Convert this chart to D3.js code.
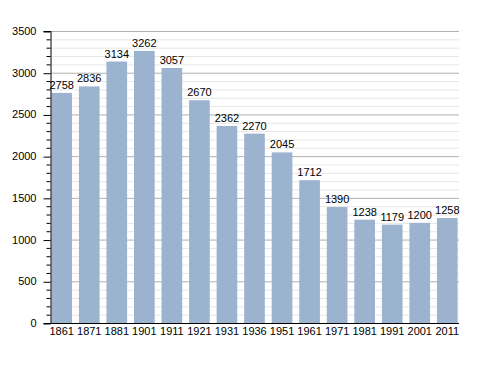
<!DOCTYPE html>
<html><head><meta charset="utf-8">
<script src="https://cdn.jsdelivr.net/npm/d3@7"></script>
<style>body{margin:0;background:#fff}svg{display:block;font-family:"Liberation Sans",Arial,sans-serif}</style>
</head><body><svg id="c" width="488" height="373"></svg>
<script>
const years = ["1861","1871","1881","1901","1911","1921","1931","1936","1951","1961","1971","1981","1991","2001","2011"];
const population = [2758,2836,3134,3262,3057,2670,2362,2270,2045,1712,1390,1238,1179,1200,1258];
const yMajorTicks = [0,500,1000,1500,2000,2500,3000,3500];

const svg = d3.select("#c");
const L = 50, R = 459, T = 31, B = 323;
const x = d3.scaleBand().domain(years).range([L, R]).paddingInner(0.25).paddingOuter(0.05);
const y = d3.scaleLinear().domain([0, 3500]).range([B, T]);
const minor = d3.range(0, 3501, 100);

// grid
svg.append("g").selectAll("line").data(minor.filter(v => v % 500 !== 0)).join("line")
  .attr("x1", L).attr("x2", R).attr("y1", d => y(d) + 0.5).attr("y2", d => y(d) + 0.5)
  .attr("stroke", "#e6e6e6").attr("stroke-width", 1);
svg.append("g").selectAll("line").data(yMajorTicks.filter(v => v > 0)).join("line")
  .attr("x1", L).attr("x2", R).attr("y1", d => y(d) + 0.5).attr("y2", d => y(d) + 0.5)
  .attr("stroke", "#b0b0b0").attr("stroke-width", 1);

// bars
svg.append("g").selectAll("rect").data(population).join("rect")
  .attr("x", (d, i) => x(years[i])).attr("width", x.bandwidth())
  .attr("y", d => y(d)).attr("height", d => B - y(d))
  .attr("fill", "#9cb3cf");

// value labels
svg.append("g").selectAll("text").data(population).join("text")
  .attr("x", (d, i) => x(years[i]) + x.bandwidth() / 2).attr("y", d => y(d) - 4)
  .attr("text-anchor", "middle").attr("font-size", 11).attr("fill", "#000")
  .text(d => d);

// y axis
const ya = svg.append("g").attr("transform", `translate(${L + 0.5},0)`)
  .call(d3.axisLeft(y).tickValues(yMajorTicks).tickSize(7).tickPadding(7).tickFormat(d3.format("d")));
ya.select(".domain").attr("stroke", "#000");
ya.selectAll(".tick line").attr("stroke", "#000").attr("transform", "translate(0,0.5)");
ya.selectAll("text").attr("font-size", 11).attr("fill", "#000").attr("font-family", "Liberation Sans, Arial, sans-serif");
ya.append("g").selectAll("line").data(minor.filter(v => v % 500 !== 0)).join("line")
  .attr("x1", -4).attr("x2", 0).attr("y1", d => y(d) + 0.5).attr("y2", d => y(d) + 0.5)
  .attr("stroke", "#000");

// x axis
const xa = svg.append("g").attr("transform", `translate(0,${B + 0.5})`)
  .call(d3.axisBottom(x).tickSize(0).tickPadding(4));
xa.select(".domain").remove();
xa.append("line").attr("x1", L - 6).attr("x2", R).attr("stroke", "#000");
xa.selectAll("text").attr("font-size", 11).attr("fill", "#000").attr("font-family", "Liberation Sans, Arial, sans-serif");
</script></body></html>
